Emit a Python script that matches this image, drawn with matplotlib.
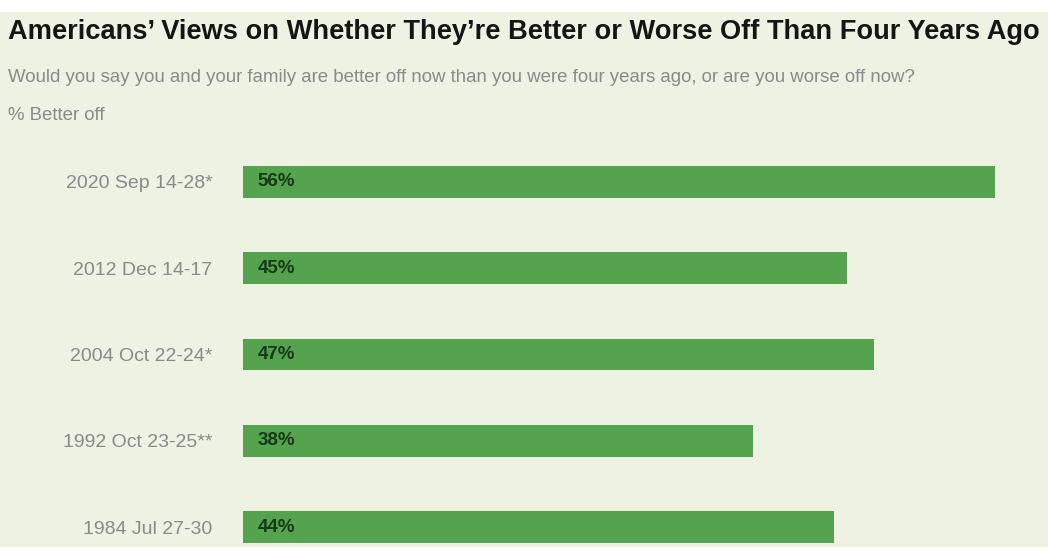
import matplotlib
matplotlib.use("Agg")
import matplotlib.pyplot as plt
from matplotlib.patches import Rectangle

# Encuesta: porcentaje que dice estar mejor que hace cuatro años
periodos = ["2020 Sep 14-28*", "2012 Dec 14-17", "2004 Oct 22-24*",
            "1992 Oct 23-25**", "1984 Jul 27-30"]
mejor = [56, 45, 47, 38, 44]

titulo = "Americans\u2019 Views on Whether They\u2019re Better or Worse Off Than Four Years Ago"
pregunta = ("Would you say you and your family are better off now than you were "
            "four years ago, or are you worse off now?")
nota = "% Better off"

fondo = "#edf2e2"
verde = "#55a24f"

W, H = 1048, 550
fig = plt.figure(figsize=(W / 100, H / 100), dpi=100)
fig.patch.set_facecolor(fondo)

# franjas blancas arriba y abajo
fig.patches.append(Rectangle((0, 1 - 12 / H), 1, 12 / H, transform=fig.transFigure,
                             facecolor="white", edgecolor="none"))
fig.patches.append(Rectangle((0, 0), 1, 3 / H, transform=fig.transFigure,
                             facecolor="white", edgecolor="none"))

fig.text(8 / W, 1 - 32 / H, titulo, fontsize=19.6, fontweight="bold",
         color="#151515", va="center", ha="left", family="Liberation Sans")
fig.text(8 / W, 1 - 77 / H, pregunta, fontsize=13.4, color="#8a8a8a",
         va="center", ha="left", family="Liberation Sans")
fig.text(8 / W, 1 - 116 / H, nota, fontsize=13.4, color="#8a8a8a",
         va="center", ha="left", family="Liberation Sans")

# ejes de las barras
x0, x1 = 243, 995
y_top, y_bot = 166, 543
ax = fig.add_axes([x0 / W, 1 - y_bot / H, (x1 - x0) / W, (y_bot - y_top) / H])
ax.set_facecolor("none")
alto = 0.37
pos = list(range(len(periodos)))
ax.barh(pos, mejor, height=alto, color=verde, edgecolor="none")
ax.set_xlim(0, max(mejor))
ax.set_ylim(len(periodos) - 1 + alto / 2, -alto / 2)

for p, v in zip(pos, mejor):
    ax.text(1.1, p, f"{v}%", va="center", ha="left", fontsize=13.5,
            color="#163a16", fontweight="bold", family="Liberation Sans")

ax.set_yticks(pos)
ax.set_yticklabels(periodos, fontsize=14, color="#8a8a8a", family="Liberation Sans")
ax.tick_params(axis="y", length=0, pad=22)
ax.set_xticks([])
for s in ax.spines.values():
    s.set_visible(False)

fig.savefig("out.png", dpi=100, facecolor=fig.get_facecolor())
